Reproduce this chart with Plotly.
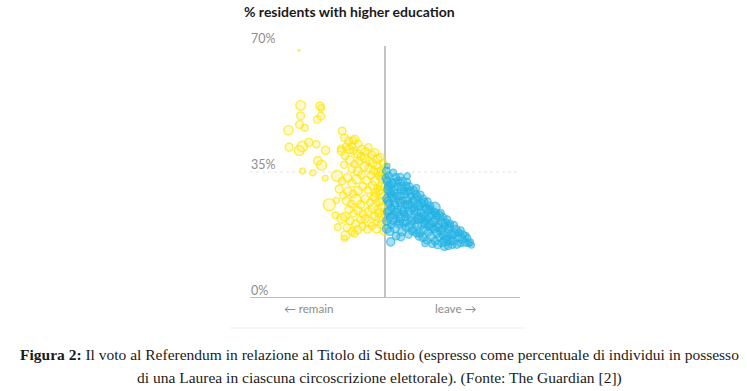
import math
import plotly.graph_objects as go

# ---------------- data ----------------
# Remain-majority areas: leave share (%), residents with higher education (%), electorate (thousands)
remain_leave = [
    24.5, 25.0, 25.0, 24.7, 26.2, 21.4, 30.7, 31.1, 31.0, 29.9, 37.3, 40.5, 21.6, 24.6, 25.5,
    27.4, 29.7, 32.4, 30.1, 31.2, 25.6, 28.6, 32.3, 33.5, 35.6, 35.3, 37.2, 36.0, 38.3, 41.0,
    38.0, 37.0,
    38.0, 39.2, 40.3, 41.0, 42.1, 43.0, 44.2, 45.1, 46.0, 47.0, 47.8, 48.6, 49.4, 49.8, 48.9,
    47.5, 46.4, 45.3, 44.0, 42.9, 41.8, 40.6, 39.5, 38.5,
    37.0, 38.2, 39.6, 41.0, 42.4, 43.8, 45.2, 46.6, 37.9, 40.2, 42.0,
    35.8, 37.3, 38.9, 40.2, 41.6, 43.1, 44.5, 45.8, 47.0, 48.3, 49.5, 49.0, 47.7, 46.3, 44.9,
    43.4, 42.0, 40.5, 39.0, 37.6, 36.4,
    38.5, 40.0, 41.4, 42.8, 44.1, 45.6, 47.0, 48.4, 49.6, 49.2, 47.8, 46.4, 45.0, 43.5, 42.0,
    40.7, 39.3, 38.1, 39.7, 41.3, 42.6, 44.1, 45.4, 46.9, 48.3, 49.4, 49.8,
    38.8, 40.2, 41.9, 43.3, 44.8, 46.2, 47.5, 48.8, 49.6,
    48.0, 49.0, 47.2, 48.7, 49.7, 46.8, 48.1, 49.3,
]
remain_degree = [
    68.8, 53.5, 50.6, 48.2, 47.3, 46.6, 53.3, 52.8, 50.5, 49.6, 46.4, 43.8, 41.9, 41.0, 42.1,
    43.2, 42.7, 41.0, 38.1, 36.9, 35.3, 34.8, 33.3, 25.9, 27.1, 23.0, 22.1, 19.7, 17.4, 17.9,
    16.5, 41.5,
    44.5, 43.6, 42.2, 44.0, 42.8, 41.3, 40.6, 41.9, 39.8, 40.4, 38.6, 39.1, 37.5, 36.0, 35.2,
    36.8, 37.5, 38.2, 38.9, 39.3, 40.1, 40.8, 41.3, 42.0,
    40.8, 39.5, 38.3, 37.2, 38.0, 36.5, 36.0, 35.3, 37.0, 35.8, 35.2,
    33.9, 32.5, 33.4, 31.9, 33.0, 34.2, 32.7, 34.0, 32.5, 33.8, 32.9, 31.1, 30.4, 31.2, 30.0,
    31.0, 29.8, 28.9, 29.6, 28.5, 30.3,
    27.0, 26.1, 27.3, 26.0, 27.5, 26.5, 27.8, 26.8, 28.4, 25.4, 24.6, 25.0, 24.0, 23.4, 24.3,
    23.5, 24.6, 22.6, 21.4, 20.6, 21.8, 22.0, 21.2, 22.6, 22.2, 21.3, 24.0,
    19.5, 18.4, 19.0, 19.8, 19.1, 20.0, 19.2, 20.4, 18.6,
    35.0, 34.4, 29.2, 29.9, 30.8, 28.2, 23.6, 26.9,
]
remain_voters = [
    6, 150, 100, 100, 70, 140, 100, 70, 90, 90, 90, 80, 100, 160, 180,
    110, 80, 110, 110, 160, 50, 60, 50, 230, 60, 70, 150, 70, 130, 70,
    60, 80,
    90, 100, 80, 120, 90, 100, 110, 80, 90, 100, 120, 90, 80, 100, 110,
    90, 100, 80, 120, 90, 100, 80, 110, 90,
    100, 90, 120, 80, 100, 110, 90, 100, 80, 90, 120,
    200, 90, 110, 100, 130, 90, 100, 80, 110, 90, 120, 100, 90, 110, 80,
    100, 120, 90, 110, 80, 100,
    100, 90, 180, 100, 110, 90, 120, 100, 80, 110, 90, 150, 100, 90, 110,
    80, 100, 120, 90, 100, 80, 110, 170, 90, 100, 120, 90,
    100, 90, 110, 80, 100, 90, 110, 100, 90,
    110, 90, 100, 120, 90, 110, 100, 90,
]

# Leave-majority areas
leave_leave = [
    50.7, 50.4, 51.1, 50.6, 51.5, 50.9, 51.7, 50.5, 51.3, 51.9, 50.8, 51.5, 50.6, 51.8, 51.7, 52.1,
    52.4, 53.2, 52.8, 53.7, 52.5, 53.4, 54.0, 52.9, 53.7, 52.6, 53.4, 54.1, 52.9,
    54.5, 55.2, 54.8, 55.7, 54.4, 55.3, 56.0, 54.9, 55.7, 54.6, 55.4, 56.1, 55.0, 56.6,
    56.5, 57.3, 56.9, 57.7, 56.6, 57.4, 58.0, 56.8, 57.6, 56.4, 57.2, 58.1, 57.0,
    59.3, 58.5, 59.2, 58.9, 59.7, 58.6, 59.4, 60.0, 58.8, 59.6, 58.4, 59.3, 60.1,
    60.5, 61.3, 60.9, 61.7, 60.6, 61.4, 62.0, 60.8, 61.6, 60.4, 61.2, 61.9,
    62.6, 63.3, 62.9, 63.8, 62.5, 63.4, 64.0, 62.8, 63.6, 62.4, 64.0,
    64.8, 64.5, 65.3, 64.9, 65.8, 64.6, 65.4, 66.0, 64.8, 65.6,
    66.5, 67.2, 66.8, 67.7, 66.4, 67.3, 68.0, 66.9, 67.6, 68.0,
    68.4, 69.2, 68.8, 69.6, 68.5, 69.4, 70.0, 68.7,
    70.4, 71.1, 70.7, 71.6, 70.3, 71.3, 71.9,
    72.4, 73.1, 72.8, 73.6, 72.4, 73.9,
    74.4, 75.2, 74.7, 75.6,
    50.3, 51.0, 51.6, 50.9, 51.2, 52.2, 52.0, 53.0, 52.7, 53.5,
    53.9, 54.2, 55.0, 54.6, 55.8, 55.5, 56.3, 56.0, 56.8, 57.5,
    57.9, 58.3, 58.7, 59.5, 59.8, 60.3, 60.7, 61.5, 61.8, 62.2,
    62.8, 63.5, 63.1, 64.3, 65.0, 65.7, 66.2, 67.0, 67.9, 69.0,
    70.1, 51.4, 50.5, 53.3, 54.7,
]
leave_degree = [
    36.7, 35.3, 34.0, 32.6, 31.4, 30.1, 28.8, 27.6, 26.3, 25.1, 23.9, 22.6, 21.4, 20.3, 15.6, 22.1,
    34.8, 33.5, 32.1, 30.9, 29.6, 28.3, 27.0, 25.8, 24.5, 23.2, 21.9, 20.6, 19.4,
    33.6, 32.4, 31.0, 29.7, 28.4, 27.1, 25.9, 24.6, 23.4, 22.1, 20.8, 19.6, 18.4, 33.9,
    32.2, 30.9, 29.5, 28.3, 27.1, 25.9, 24.6, 23.4, 22.2, 21.0, 19.8, 18.6, 17.6,
    30.6, 29.9, 28.8, 27.5, 26.3, 25.1, 23.9, 22.7, 21.5, 20.3, 19.1, 18.0, 17.1,
    28.7, 27.5, 26.2, 25.0, 23.8, 22.6, 21.4, 20.2, 19.0, 17.9, 16.8, 15.2,
    26.8, 25.6, 24.3, 23.1, 21.9, 20.7, 19.5, 18.3, 17.1, 16.0, 15.0,
    25.2, 24.0, 22.8, 21.6, 20.4, 19.2, 18.0, 16.9, 15.8, 14.8,
    23.6, 22.4, 21.1, 19.9, 18.7, 17.5, 16.4, 15.3, 14.3, 16.0,
    21.8, 20.6, 19.3, 18.1, 17.0, 15.9, 14.8, 14.4,
    20.3, 19.1, 17.9, 16.8, 15.8, 14.9, 18.2,
    18.8, 17.6, 16.4, 15.4, 15.2, 17.3,
    16.6, 15.5, 15.2, 14.7,
    33.2, 31.0, 29.4, 26.9, 24.2, 31.8, 27.9, 29.0, 26.4, 23.8,
    32.5, 21.3, 30.2, 26.5, 28.8, 24.0, 31.1, 22.7, 26.0, 29.8,
    21.4, 27.0, 24.3, 28.2, 21.9, 25.5, 22.2, 26.6, 20.6, 24.8,
    22.6, 24.6, 19.8, 21.1, 23.6, 19.6, 22.9, 18.8, 20.9, 19.9,
    17.5, 18.5, 19.2, 17.2, 17.0,
]
leave_voters = [
    40, 90, 80, 100, 90, 110, 80, 100, 90, 80, 110, 90, 120, 80, 110, 200,
    80, 90, 100, 80, 110, 90, 80, 100, 90, 100, 80, 90, 120,
    80, 90, 100, 90, 100, 80, 90, 110, 80, 100, 90, 80, 100, 60,
    80, 90, 100, 80, 110, 90, 80, 100, 90, 80, 100, 90, 80,
    70, 90, 80, 100, 90, 80, 100, 90, 80, 110, 90, 80, 90,
    80, 90, 100, 80, 90, 110, 80, 90, 100, 80, 90, 70,
    80, 90, 100, 80, 90, 110, 80, 90, 100, 80, 70,
    170, 80, 90, 100, 80, 90, 110, 80, 90, 100,
    80, 90, 100, 80, 90, 100, 80, 90, 100, 180,
    80, 90, 100, 80, 90, 100, 80, 70,
    80, 90, 100, 80, 90, 100, 70,
    80, 90, 100, 80, 70, 70,
    80, 70, 70, 60,
    100, 90, 110, 100, 90, 110, 100, 90, 110, 100,
    90, 100, 110, 90, 100, 110, 90, 100, 110, 90,
    100, 110, 90, 100, 110, 90, 100, 110, 90, 100,
    110, 90, 100, 110, 90, 100, 110, 90, 100, 110,
    90, 100, 110, 90, 100,
]

title_text = "% residents with higher education"
y_ticks = [70, 35, 0]
y_tick_labels = ["70%", "35%", "0%"]
side_labels = ["← remain", "leave →"]
side_positions = [27.5, 71.0]
caption_1 = "<b>Figura 2:</b> Il voto al Referendum in relazione al Titolo di Studio (espresso come percentuale di individui in possesso"
caption_2 = "di una Laurea in ciascuna circoscrizione elettorale). (Fonte: The Guardian [2])"

# ---------------- figure ----------------
W, H = 747, 391
L, R, T, B = 250, 227, 46, 93
PW, PH = W - L - R, H - T - B

YELLOW = "#ffe500"
BLUE = "#22b2e4"


def diam(v):
    return [0.78 * math.sqrt(x) for x in v]


def px_to_paper(xpx, ypx):
    return (xpx - L) / PW, (H - B - ypx) / PH


fig = go.Figure()
fig.add_trace(go.Scatter(
    x=remain_leave, y=remain_degree, mode="markers", hoverinfo="skip",
    marker=dict(size=diam(remain_voters), color="rgba(255,229,0,0.28)",
                line=dict(color=YELLOW, width=1.4)),
))
fig.add_trace(go.Scatter(
    x=leave_leave, y=leave_degree, mode="markers", hoverinfo="skip",
    marker=dict(size=diam(leave_voters), color="rgba(34,178,228,0.58)",
                line=dict(color=BLUE, width=1.4)),
))

sx0, sy = px_to_paper(230, 328)
sx1, _ = px_to_paper(525, 328)
shapes = [
    dict(type="line", xref="paper", yref="y", x0=0, x1=1, y0=35, y1=35,
         line=dict(color="#e6e6e6", width=1, dash="dot"), layer="below"),
    dict(type="line", xref="paper", yref="y", x0=0, x1=1, y0=0, y1=0,
         line=dict(color="#bdbdbd", width=2), layer="above"),
    dict(type="line", xref="x", yref="y", x0=50, x1=50, y0=0, y1=70,
         line=dict(color="#c4c4c4", width=2), layer="below"),
    dict(type="line", xref="paper", yref="paper", x0=sx0, x1=sx1, y0=sy, y1=sy,
         line=dict(color="#efefef", width=1)),
]

annotations = []
for v, t in zip(y_ticks, y_tick_labels):
    annotations.append(dict(x=-1 / PW, y=v, xref="paper", yref="y", text=t, showarrow=False,
                            xanchor="left", yanchor="middle", yshift=8,
                            font=dict(family="Lato", size=12.5, color="#8c8c8c")))
for pos, t in zip(side_positions, side_labels):
    annotations.append(dict(x=pos, y=0, xref="x", yref="y", text=t, showarrow=False,
                            xanchor="center", yanchor="middle", yshift=-10,
                            font=dict(family="Lato", size=11.7, color="#8c8c8c")))
for (cx, cy), t in zip([(379, 355), (379, 378)], [caption_1, caption_2]):
    ax, ay = px_to_paper(cx, cy)
    annotations.append(dict(x=ax, y=ay, xref="paper", yref="paper", text=t,
                            showarrow=False, xanchor="center", yanchor="middle",
                            font=dict(family="Liberation Serif", size=15.5, color="#1a1a1a")))

fig.update_layout(
    width=W, height=H,
    margin=dict(l=L, r=R, t=T, b=B, autoexpand=False),
    paper_bgcolor="white", plot_bgcolor="white",
    showlegend=False,
    title=dict(text="<b>" + title_text + "</b>", x=244 / W, xanchor="left",
               y=1 - 12 / H, yanchor="middle",
               font=dict(family="Lato", size=14, color="#1a1a1a")),
    xaxis=dict(range=[10, 90], visible=False, fixedrange=True),
    yaxis=dict(range=[0, 70], visible=False, fixedrange=True),
    shapes=shapes, annotations=annotations,
)

fig.write_html("out.html", config={"displayModeBar": False},
               post_script="document.body.style.margin='0';")
